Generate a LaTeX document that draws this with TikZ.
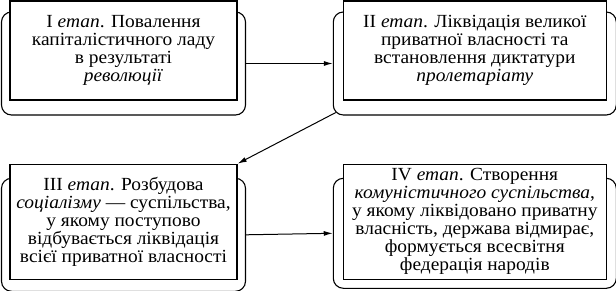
\documentclass[tikz,border=0pt]{standalone}
\usepackage{fontspec}
\setmainfont[FakeStretch=1.05]{Liberation Serif}
\usepackage{tikz}
\usetikzlibrary{arrows.meta, positioning, backgrounds}
\tikzstyle{stagebox} = [rectangle, draw=black, line width=1.3pt, fill=white, align=center, inner sep=0pt, font=\fontsize{18.5}{18}\selectfont]
\tikzstyle{frame} = [rectangle, rounded corners=10pt, draw=black, line width=1.1pt, fill=white]
\tikzstyle{arrow} = [line width=1pt, -{Latex[length=9pt, width=5pt]}]

\begin{document}
\begin{tikzpicture}[node distance=63pt and 105pt]
  \useasboundingbox (0pt,0pt) rectangle (616pt,-291pt);

  % Stage I
  \node[stagebox, minimum width=227pt, minimum height=99pt] (st1) at (123.5pt,-50.5pt)
    {I \textit{етап}. Повалення\\капіталістичного ладу\\в результаті\\\textit{революції}};

  % Stage II
  \node[stagebox, minimum width=263pt, minimum height=99pt, right=of st1] (st2)
    {II \textit{етап}. Ліквідація великої\\приватної власності та\\встановлення диктатури\\\textit{пролетаріату}};

  % Stage III
  \node[stagebox, minimum width=227pt, minimum height=115pt, below=of st1] (st3)
    {III \textit{етап}. Розбудова\\\textit{соціалізму} --- суспільства,\\у якому поступово\\відбувається ліквідація\\всієї приватної власності};

  % Stage IV
  \node[stagebox, minimum width=263pt, minimum height=115pt, right=of st3] (st4)
    {IV \textit{етап}. Створення\\\textit{комуністичного суспільства},\\у якому ліквідовано приватну\\власність, держава відмирає,\\формується всесвітня\\федерація народів};

  % Rounded frames behind the stages
  \begin{scope}[on background layer]
    \node[frame, minimum width=244pt, minimum height=103pt, yshift=-13pt] (fr1) at (st1) {};
    \node[frame, minimum width=283pt, minimum height=103pt, yshift=-13pt] (fr2) at (st2) {};
    \node[frame, minimum width=244pt, minimum height=113pt, yshift=-13pt] (fr3) at (st3) {};
    \node[frame, minimum width=283pt, minimum height=110pt, yshift=-11.5pt] (fr4) at (st4) {};
  \end{scope}

  % Connections
  \draw[arrow] (fr1.east) -- (fr2.west);
  \draw[arrow] ([shift={(3pt,3pt)}]fr2.south west) -- (st3.north east);
  \draw[arrow] (fr3.east) -- (fr4.west);
\end{tikzpicture}
\end{document}
